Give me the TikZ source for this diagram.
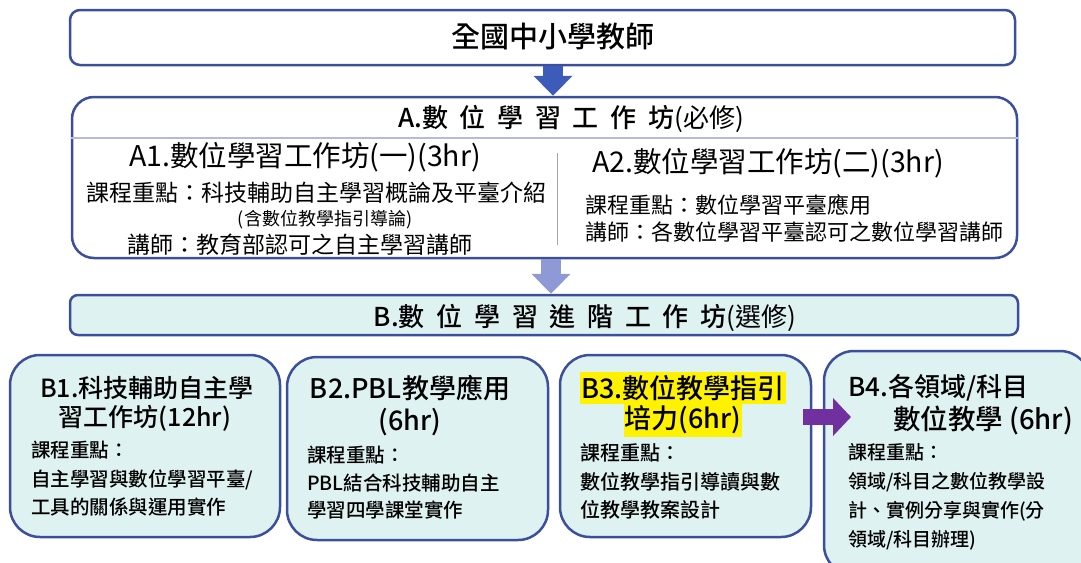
\documentclass[tikz,border=0pt]{standalone}
\usepackage{fontspec}
\setmainfont{Noto Sans CJK TC}[BoldFont={Noto Sans CJK TC Medium}]
\usetikzlibrary{arrows.meta}
\definecolor{boxblue}{HTML}{3C4F9C}
\definecolor{boxfill}{HTML}{DEF2F1}
\definecolor{arrdark}{HTML}{3D5BB8}
\definecolor{arrlight}{HTML}{8E99D5}
\definecolor{arrpurple}{HTML}{7030A0}
\definecolor{splitgray}{HTML}{B3BBD9}
\newcommand{\fsz}[1]{\fontsize{#1}{#1}\selectfont}
\newcommand{\gap}{\hspace{0.45em}}
\tikzstyle{bigarrow} = [line width=20pt, -{Triangle[length=20pt,width=38pt]}]

\begin{document}
\begin{tikzpicture}[x=1pt, y=-1pt,
  box/.style = {draw=boxblue, line width=2.5pt, rounded corners=#1, inner sep=0pt},
  box/.default = 10pt,
  txt/.style = {inner sep=0pt, font=\fsz{#1}},
  btxt/.style = {inner sep=0pt, font=\fsz{#1}\bfseries},
  hilite/.style = {fill=yellow, inner xsep=1pt, inner ysep=3pt}]
\useasboundingbox (0,0) rectangle (1081,562);
\clip (0,0) rectangle (1081,562);

% boxes
\node[box=10pt, minimum width=945pt, minimum height=55pt] (top) at (542.5,37.5) {};
\node[box=22pt, minimum width=945pt, minimum height=161pt] (A) at (544.5,177.5) {};
\node[box=8pt, fill=boxfill, minimum width=948pt, minimum height=40pt] (B) at (544,315) {};
\node[box=30pt, fill=boxfill, minimum width=270pt, minimum height=182pt] (B1) at (145,446) {};
\node[box=30pt, fill=boxfill, minimum width=261pt, minimum height=183pt] (B2) at (417.5,448.5) {};
\node[box=30pt, fill=boxfill, minimum width=251pt, minimum height=182pt] (B3) at (685.5,446) {};
\node[box=30pt, fill=boxfill, minimum width=266pt, minimum height=224pt] (B4) at (957,463) {};

\draw[splitgray, line width=1.5pt] (A.west |- 0,138) -- (A.east |- 0,138);
\draw[gray!70, line width=1pt] (557,153) -- (557,245);

% arrows
\draw[bigarrow, arrdark] (top.south -| 553,0) -- (A.north -| 553,0);
\draw[bigarrow, arrlight] (A.south -| 551,0) -- (B.north -| 551,0);
\coordinate (pS) at (803,417);
\coordinate (pE) at (851,417);
\draw[line width=16pt, arrpurple, -{Triangle[length=18pt,width=37pt]}] (pS) -- (pE);

% texts
\node[btxt=29] (topT) at (553,37) {全國中小學教師};
\node[btxt=26] (aT) at (571,119) {A.數\gap 位\gap 學\gap 習\gap 工\gap 作\gap 坊\mdseries(必修)};

\node[txt=28.5] (a1T) at (305,157) {A1.數位學習工作坊(一)(3hr)};
\node[txt=23] (a1L1) at (316,193) {課程重點：科技輔助自主學習概論及平臺介紹};
\node[txt=18] (a1L2) at (325,220) {(含數位教學指引導論)};
\node[txt=23] (a1L3) at (300,245) {講師：教育部認可之自主學習講師};

\node[txt=28.5] (a2T) at (768,163) {A2.數位學習工作坊(二)(3hr)};
\node[txt=22, anchor=west] (a2L1) at (585,205) {課程重點：數位學習平臺應用};
\node[txt=22, anchor=west] (a2L2) at (585,232) {講師：各數位學習平臺認可之數位學習講師};

\node[btxt=26] (bT) at (585,318) {B.數\gap 位\gap 學\gap 習\gap 進\gap 階\gap 工\gap 作\gap 坊\mdseries(選修)};

\node[btxt=25] (b1T1) at (147,388) {B1.科技輔助自主學};
\node[btxt=25] (b1T2) at (145,418) {習工作坊(12hr)};
\node[btxt=19.5, anchor=west] (b1L1) at (31,450) {課程重點：};
\node[btxt=19.5, anchor=west] (b1L2) at (31,480) {自主學習與數位學習平臺/};
\node[btxt=19.5, anchor=west] (b1L3) at (31,507) {工具的關係與運用實作};

\node[btxt=27] (b2T1) at (410,388) {B2.PBL教學應用};
\node[btxt=27] (b2T2) at (410,422) {(6hr)};
\node[btxt=19.5, anchor=west] (b2L1) at (307,455) {課程重點：};
\node[btxt=19.5, anchor=west] (b2L2) at (307,483) {PBL結合科技輔助自主};
\node[btxt=19.5, anchor=west] (b2L3) at (307,510) {學習四學課堂實作};

\node[btxt=27, hilite] (b3T1) at (683,388) {B3.數位教學指引};
\node[btxt=27, hilite] (b3T2) at (683,420) {培力(6hr)};
\node[btxt=20, anchor=west] (b3L1) at (580,453) {課程重點：};
\node[btxt=20, anchor=west] (b3L2) at (580,482) {數位教學指引導讀與數};
\node[btxt=20, anchor=west] (b3L3) at (580,510) {位教學教案設計};

\node[btxt=26, anchor=west] (b4T1) at (848,388) {B4.各領域/科目};
\node[btxt=27.5, anchor=west] (b4T2) at (893,420) {數位教學 (6hr)};
\node[btxt=19, anchor=west] (b4L1) at (848,452) {課程重點：};
\node[btxt=19, anchor=west] (b4L2) at (848,482) {領域/科目之數位教學設};
\node[btxt=19, anchor=west] (b4L3) at (848,511) {計、實例分享與實作(分};
\node[btxt=19, anchor=west] (b4L4) at (848,540) {領域/科目辦理)};
\end{tikzpicture}
\end{document}
